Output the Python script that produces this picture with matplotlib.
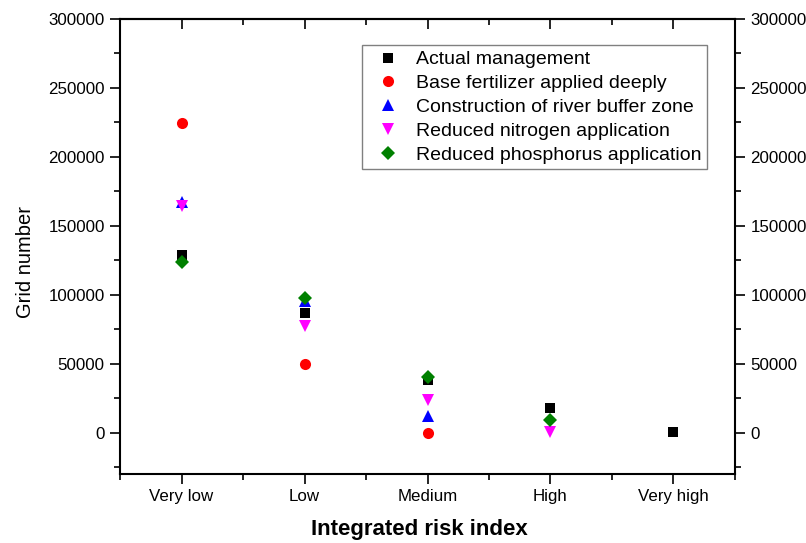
import numpy as np
import matplotlib.pyplot as plt
from matplotlib.ticker import MultipleLocator

plt.rcParams['font.family'] = ['Liberation Sans', 'DejaVu Sans']

categories = ['Very low', 'Low', 'Medium', 'High', 'Very high']

actual = [128500, 87000, 38500, 18000, 500]
base_fert = [224500, 49500, 0, np.nan, np.nan]
buffer_zone = [167500, 95500, 11800, np.nan, np.nan]
reduced_n = [164500, 77500, 23500, 800, np.nan]
reduced_p = [124000, 97300, 40000, 8800, np.nan]

series = [
    ('Actual management', actual, 's', 'black', 7.5),
    ('Base fertilizer applied deeply', base_fert, 'o', 'red', 8),
    ('Construction of river buffer zone', buffer_zone, '^', 'blue', 8),
    ('Reduced nitrogen application', reduced_n, 'v', 'magenta', 8),
    ('Reduced phosphorus application', reduced_p, 'D', 'green', 7),
]

fig = plt.figure(figsize=(8.06, 5.43), dpi=100)
ax = fig.add_axes([0.1489, 0.1271, 0.763, 0.838])

x = np.arange(1, len(categories) + 1)
for name, vals, mk, col, ms in series:
    ax.plot(x, vals, linestyle='none', marker=mk, color=col, markersize=ms,
            markeredgewidth=0, label=name)

ax.set_xlim(0.5, 5.5)
ax.set_ylim(-30000, 300000)
ax.set_xticks(x)
ax.set_xticklabels(categories)
ax.xaxis.set_minor_locator(MultipleLocator(0.5))
ax.yaxis.set_major_locator(MultipleLocator(50000))
ax.yaxis.set_minor_locator(MultipleLocator(25000))

for s in ax.spines.values():
    s.set_linewidth(1.5)

ax.tick_params(which='both', direction='out', width=1.2, labelsize=12.2,
               left=True, right=True, labelright=True, top=False, bottom=True)
ax.tick_params(which='major', length=7, pad=4)
ax.tick_params(which='minor', length=4)

# top axis: ticks pointing inward, no labels
top = ax.secondary_xaxis('top')
top.set_xticks(x)
top.xaxis.set_minor_locator(MultipleLocator(0.5))
top.tick_params(which='both', direction='in', width=1.2, labeltop=False)
top.tick_params(which='major', length=7)
top.tick_params(which='minor', length=4)
top.spines['top'].set_linewidth(1.5)

ax.set_xlabel('Integrated risk index', fontsize=16, fontweight='bold')
ax.xaxis.set_label_coords(0.486, -0.1)
ax.set_ylabel('Grid number', fontsize=14.5)
ax.yaxis.set_label_coords(-0.138, 0.466)

leg = ax.legend(loc='upper right', bbox_to_anchor=(0.9545, 0.943), fontsize=14,
                frameon=True, fancybox=False, edgecolor='gray', framealpha=1,
                handlelength=2.0, handletextpad=0.44, borderpad=0.3,
                labelspacing=0.32, borderaxespad=0)
leg.get_frame().set_linewidth(1.0)

fig.savefig('out.png', dpi=100)
